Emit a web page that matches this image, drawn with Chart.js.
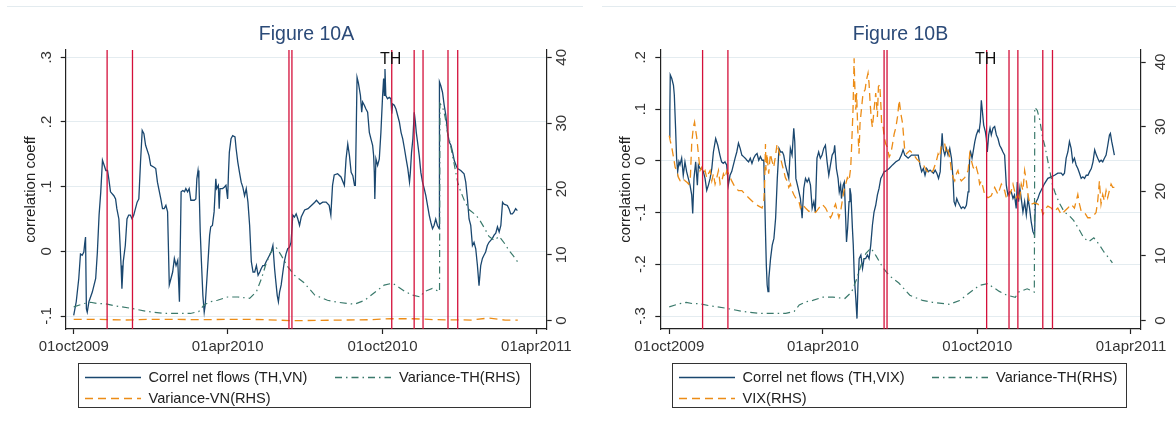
<!DOCTYPE html>
<html>
<head>
<meta charset="utf-8">
<script src="https://cdn.jsdelivr.net/npm/chart.js@4.4.1/dist/chart.umd.min.js"></script>
<style>
  html, body { margin: 0; padding: 0; background: #fff; }
  #page { position: relative; width: 1176px; height: 428px; overflow: hidden; font-family: "Liberation Sans", Arial, sans-serif; }
  canvas { position: absolute; top: 0; }
  .frame { position: absolute; top: 6px; height: 1px; background: #e3ebef; }
  .title { position: absolute; top: 22px; height: 22px; line-height: 22px; font-size: 19.5px; color: #2b4a78; text-align: center; }
  .legend { position: absolute; top: 363px; height: 45px; border: 1px solid #333; box-sizing: border-box; }
  .legend .item { position: absolute; height: 18px; line-height: 18px; font-size: 14.6px; color: #222; white-space: nowrap; }
  .legend svg { position: absolute; top: 0; }
</style>
</head>
<body>
<div id="page">
  <div class="frame" style="left:7px;width:576px"></div>
  <div class="frame" style="left:602px;width:574px"></div>
  <canvas id="chartA" width="588" height="428" style="left:0"></canvas>
  <canvas id="chartB" width="588" height="428" style="left:588px"></canvas>
  <div class="title" style="left:66px;width:481px">Figure 10A</div>
  <div class="title" style="left:660px;width:481px">Figure 10B</div>
  <div class="legend" id="legA" style="left:78px;width:453px"></div>
  <div class="legend" id="legB" style="left:672px;width:455px"></div>
</div>
<script>
// days counted from 01oct2009
const tickDays = [0, 182, 365, 547];
const tickLabels = ["01oct2009", "01apr2010", "01oct2010", "01apr2011"];
const eventDays = [39.5, 69.5, 254.5, 258, 376, 402.5, 413, 442.5, 454];
const eventLabel = "TH";
const eventLabelAt = 4;

const leftTicksA = [-0.1, 0, 0.1, 0.2, 0.3];
const leftLabelsA = ["-.1", "0", ".1", ".2", ".3"];
const leftTicksB = [-0.3, -0.2, -0.1, 0, 0.1, 0.2];
const leftLabelsB = ["-.3", "-.2", "-.1", "0", ".1", ".2"];
const rightTicks = [0, 10, 20, 30, 40];
const rightLabels = ["0", "10", "20", "30", "40"];

// Figure 10A: Correl net flows (TH,VN)
const correlVNDays = [0, 3, 6, 8, 10, 12, 13, 14, 15, 16, 18, 22, 26, 28, 30, 32, 34, 36, 38, 40, 41.5, 43.5, 47.5, 49.5, 51, 53.4, 56, 57, 58.6, 61, 63, 65, 67, 69, 71, 75, 77, 79, 81, 83, 85, 89, 91, 95, 97, 99, 103, 105, 107, 109, 111, 113, 115, 117, 119, 121, 123, 125, 127, 129, 131, 132.6, 134.6, 136.5, 138.5, 142.5, 144.4, 145.6, 147, 148, 149.6, 151, 152.7, 154.3, 155.5, 157.5, 159, 160.7, 162, 164, 166, 168, 169, 171, 172, 173, 176, 178, 180, 182, 183, 184, 186, 188, 190.7, 192, 194, 196, 198, 200, 202, 204, 206, 208, 210, 212, 214, 216, 218, 220, 221.6, 223.6, 225.5, 227.5, 229.5, 231.5, 233.5, 235.5, 237.5, 238.6, 240.6, 242, 243.4, 245.3, 247.3, 249, 251, 253, 255, 257, 259, 261, 263, 265, 267, 269, 273, 277, 281, 285, 287, 291, 294.4, 298.4, 302, 304, 306, 308, 312, 316, 320, 322, 324, 326, 328, 330, 332, 333, 334, 335, 336.5, 339, 340.5, 341.6, 343.6, 345.5, 347.5, 349.5, 351.4, 353.4, 354.6, 355.4, 356, 357.3, 359.3, 361.3, 363.2, 365.2, 366.4, 367.2, 368, 369, 371, 373, 375, 376, 377, 379, 381, 383, 385, 387, 389, 391, 393, 395, 397, 398, 399.4, 401, 402.6, 404, 405, 406.5, 408.5, 410.4, 412.4, 414.4, 416.3, 418.3, 420.3, 422.2, 424.2, 426, 428, 430, 432, 432.4, 434, 436, 438, 440, 442, 444, 446, 448, 450, 452, 453.7, 457.6, 461.5, 463.5, 465.5, 467.4, 469.4, 471.4, 473.3, 475.3, 477.3, 479.2, 481.2, 483.2, 485, 487, 489, 491, 493, 495, 497, 499, 501, 503, 505, 507, 508.7, 512.7, 514.6, 516.6, 518.6, 520.5, 522.5, 524.5];
const correlVN = [-0.099, -0.078, -0.042, -0.004, -0.006, -0.001, 0.012, 0.022, -0.089, -0.094, -0.078, -0.063, -0.042, -0.001, 0.056, 0.092, 0.141, 0.133, 0.125, 0.125, 0.112, 0.092, 0.086, 0.081, 0.066, 0.050, -0.022, -0.058, -0.016, 0.009, 0.050, 0.056, 0.056, 0.050, 0.056, 0.076, 0.081, 0.138, 0.187, 0.182, 0.164, 0.148, 0.133, 0.130, 0.128, 0.107, 0.081, 0.066, 0.066, 0.071, 0.061, -0.052, -0.042, -0.032, -0.011, -0.022, -0.014, -0.078, 0.092, 0.094, 0.092, 0.097, 0.092, 0.097, 0.079, 0.079, 0.081, 0.112, 0.125, 0.112, 0.030, -0.016, -0.068, -0.094, -0.083, -0.042, -0.011, 0.025, 0.038, 0.040, 0.061, 0.112, 0.097, 0.102, 0.066, 0.097, 0.097, 0.099, 0.102, 0.081, 0.122, 0.153, 0.174, 0.179, 0.177, 0.159, 0.138, 0.122, 0.107, 0.099, 0.086, 0.097, 0.076, 0.040, -0.016, -0.032, -0.032, -0.022, -0.037, -0.032, -0.027, -0.022, -0.022, -0.016, -0.011, -0.006, -0.001, 0.009, -0.027, -0.042, -0.068, -0.078, -0.063, -0.052, -0.032, -0.016, -0.004, 0.004, 0.006, 0.014, 0.056, 0.053, 0.058, 0.050, 0.040, 0.053, 0.064, 0.066, 0.071, 0.076, 0.079, 0.073, 0.076, 0.076, 0.071, 0.056, 0.102, 0.118, 0.120, 0.115, 0.102, 0.143, 0.166, 0.148, 0.122, 0.117, 0.102, 0.102, 0.184, 0.269, 0.261, 0.241, 0.215, 0.231, 0.226, 0.220, 0.215, 0.184, 0.174, 0.164, 0.148, 0.122, 0.081, 0.143, 0.133, 0.143, 0.184, 0.241, 0.267, 0.241, 0.282, 0.241, 0.236, 0.238, 0.236, 0.213, 0.228, 0.226, 0.220, 0.210, 0.200, 0.184, 0.174, 0.159, 0.143, 0.128, 0.107, 0.122, 0.153, 0.174, 0.215, 0.199, 0.184, 0.169, 0.148, 0.122, 0.107, 0.097, 0.086, 0.071, 0.056, 0.045, 0.035, 0.040, 0.050, 0.040, 0.035, 0.262, 0.256, 0.246, 0.226, 0.210, 0.184, 0.169, 0.164, 0.153, 0.140, 0.133, 0.128, 0.125, 0.120, 0.107, 0.081, 0.050, 0.040, 0.009, 0.014, 0.004, -0.022, -0.053, -0.022, -0.011, -0.006, -0.001, 0.009, 0.014, 0.017, 0.020, 0.025, 0.028, 0.038, 0.030, 0.040, 0.076, 0.073, 0.071, 0.066, 0.058, 0.058, 0.061, 0.066, 0.063];

// Variance-TH(RHS), shared by both figures
const varTHDays = [0, 12, 20, 28, 36, 47, 67, 87, 107, 127, 138, 148, 154, 162, 170, 182, 194, 208, 216, 222, 227, 233, 239, 245, 253, 261, 272, 285, 300, 312, 332, 344, 355, 367, 377, 391, 400, 410, 414, 424, 432.5, 433, 436, 439, 442, 445, 448, 451, 454, 457, 462, 468, 474, 479, 485, 491, 497, 503, 509, 515, 520, 525];
const varTH = [2.1, 2.6, 2.8, 2.6, 2.6, 2.3, 1.9, 1.4, 1.1, 1.1, 1.1, 1.4, 2.4, 2.9, 3.1, 3.6, 3.6, 3.4, 4.4, 6.4, 8.5, 10.4, 11.2, 10.0, 8.2, 6.9, 5.8, 3.9, 3.1, 2.8, 2.5, 3.1, 4.2, 5.4, 5.7, 4.5, 3.9, 3.6, 4.4, 4.9, 4.4, 33.0, 32.5, 31.0, 28.5, 27.0, 25.0, 23.0, 21.0, 19.8, 18.2, 16.8, 16.2, 15.5, 14.2, 12.8, 12.2, 12.8, 11.8, 10.6, 9.8, 8.9];

// Variance-VN(RHS)
const varVNDays = [0, 30, 60, 90, 120, 150, 180, 210, 240, 260, 290, 320, 350, 375, 400, 430, 470, 490, 510, 525];
const varVN = [0.2, 0.2, 0.1, 0.2, 0.2, 0.15, 0.2, 0.2, 0.1, 0.0, 0.05, 0.1, 0.15, 0.3, 0.3, 0.15, 0.1, 0.4, 0.1, 0.1];

// Figure 10B: Correl net flows (TH,VIX)
const correlVIXDays = [0, 0.7, 1.2, 3, 5, 6, 7.5, 8.7, 10, 11.5, 12.7, 14.7, 16.6, 18.6, 20.6, 22.6, 24.6, 26.6, 27.8, 29.3, 31.3, 33.3, 34.5, 36.5, 38.5, 40.4, 42.4, 44.4, 46.4, 48.4, 50.4, 52.3, 55, 57.5, 60, 62, 64, 66, 68, 70, 72, 74, 76, 78, 80, 82, 84, 86, 88, 90, 92, 94, 96, 98, 100, 102, 104, 106, 108, 110, 112, 113, 114, 115, 116, 117, 118, 120, 122, 124, 126, 128, 130, 132, 134, 135.6, 137.6, 139.6, 141.6, 143.5, 145.5, 147.5, 148.7, 150, 152.7, 155.4, 157.4, 159.4, 161.4, 163.4, 165.3, 167.3, 169.3, 171.3, 173, 175, 177, 179, 181, 183, 185, 187, 189, 191, 193, 195, 196, 198, 200, 201.4, 203, 204, 206, 207.4, 209, 210, 211.3, 213, 214, 215.3, 217, 218, 219.3, 221, 222.4, 223.6, 225, 227, 229, 230.8, 232.7, 234.7, 236.7, 238.7, 240.7, 242.6, 244.6, 246.6, 248.6, 250.6, 252.6, 254.6, 256.5, 260.5, 264.5, 268.5, 272.4, 275, 277, 279, 283, 287, 291, 295, 297, 299, 301, 303, 305, 307, 309, 311, 313, 315, 317, 319, 321, 322.5, 323.3, 324.4, 326.4, 328.4, 330.3, 332.3, 334.3, 336.2, 337.4, 339, 340.6, 342, 344, 346, 348, 350, 352, 354, 355, 356, 357, 358.7, 360, 362, 363.8, 365.8, 367, 368.5, 369.7, 371, 372.5, 374.5, 375.6, 376.8, 378.4, 380, 381.5, 383.5, 385.5, 387.5, 389.4, 391.4, 393.4, 395.3, 397.3, 399.3, 401.2, 403.2, 405.2, 407.2, 409, 411, 412.3, 413.8, 415.4, 417, 419, 421, 423, 425, 426.9, 428.8, 430.8, 432.8, 433.6, 434.7, 436.7, 438.7, 440.6, 444.6, 448.5, 452.5, 456.4, 460.3, 464.3, 466.3, 468.2, 470.2, 472.2, 474.1, 476.1, 478, 480, 482, 484, 486, 488, 490, 492, 494, 496, 498, 500, 502, 504, 506, 507.6, 509.6, 511.6, 513.5, 515.5, 517.5, 519.5, 521.5, 522.6, 524.2, 525.8, 527.3];
const correlVIX = [0.046, 0.095, 0.166, 0.159, 0.146, 0.127, 0.063, 0.005, -0.021, -0.002, -0.008, 0.005, -0.028, -0.002, -0.021, -0.034, -0.047, -0.066, -0.102, -0.034, -0.002, -0.047, -0.008, -0.015, -0.015, -0.021, -0.034, -0.057, -0.047, -0.034, -0.015, 0.017, 0.043, 0.030, 0.011, -0.002, -0.005, -0.002, -0.008, -0.047, -0.028, -0.021, -0.008, 0.005, 0.017, 0.034, 0.024, 0.011, 0.008, 0.005, 0.001, -0.002, 0.005, -0.005, 0.005, 0.011, 0.014, 0.001, 0.008, 0.001, 0.001, -0.066, -0.137, -0.202, -0.240, -0.253, -0.227, -0.189, -0.163, -0.150, -0.111, -0.034, 0.024, 0.017, 0.017, 0.011, -0.008, -0.021, -0.034, 0.024, 0.011, 0.063, 0.037, -0.034, -0.053, -0.073, -0.111, -0.053, -0.034, -0.041, -0.034, -0.047, -0.092, -0.079, -0.099, 0.005, 0.017, 0.005, 0.011, 0.024, 0.030, -0.002, -0.028, -0.008, 0.011, 0.017, 0.030, -0.015, -0.034, -0.060, -0.047, -0.073, -0.047, -0.041, -0.111, -0.157, -0.131, -0.079, -0.053, -0.066, -0.131, -0.163, -0.227, -0.266, -0.305, -0.240, -0.189, -0.182, -0.208, -0.189, -0.189, -0.182, -0.189, -0.163, -0.124, -0.099, -0.086, -0.066, -0.053, -0.034, -0.028, -0.021, -0.020, -0.015, -0.008, -0.002, 0.002, 0.011, 0.021, 0.011, 0.005, 0.011, 0.011, 0.011, -0.008, -0.021, -0.015, -0.028, -0.015, -0.021, -0.018, -0.021, -0.024, -0.018, -0.024, -0.034, -0.021, 0.030, 0.053, 0.024, 0.011, 0.024, 0.011, 0.024, 0.005, -0.034, -0.079, -0.086, -0.073, -0.079, -0.086, -0.092, -0.089, -0.092, -0.086, -0.060, -0.034, 0.011, 0.017, 0.005, 0.017, 0.037, 0.050, 0.059, 0.056, 0.075, 0.117, 0.095, 0.069, 0.056, 0.043, 0.017, 0.050, 0.063, 0.050, 0.063, 0.066, 0.050, 0.043, 0.030, 0.024, 0.017, 0.011, -0.047, -0.066, -0.060, -0.060, -0.073, -0.066, -0.092, -0.041, -0.079, -0.053, -0.073, -0.099, -0.079, -0.105, -0.073, -0.092, -0.118, -0.137, -0.144, -0.086, -0.079, -0.073, -0.063, -0.057, -0.044, -0.034, -0.031, -0.028, -0.024, -0.024, -0.028, -0.024, 0.005, 0.017, 0.037, 0.024, -0.002, 0.005, -0.008, -0.015, -0.024, -0.034, -0.031, -0.034, -0.028, -0.028, -0.021, -0.015, -0.002, 0.021, 0.011, 0.005, -0.002, 0.001, -0.002, 0.005, 0.011, 0.030, 0.050, 0.053, 0.037, 0.024, 0.011];

// VIX(RHS)
const vixDays = [0, 1, 3, 5, 7, 9, 11, 13, 15, 17, 19, 21, 23, 25, 26.6, 28.5, 30, 31.3, 32.5, 34.5, 36.5, 38.5, 40.4, 42.4, 44.4, 46.4, 48.4, 50.4, 52.3, 54.3, 56.3, 58.3, 60.3, 62.3, 64.2, 66.2, 68.2, 70.2, 72.2, 74, 76, 78, 82, 86, 90, 94, 98, 102, 106, 110, 112, 113, 114, 114.6, 115.8, 117.8, 119.8, 121.7, 123.7, 125.7, 127.7, 129.7, 131.6, 133.6, 135.6, 137.6, 139.6, 141.6, 143.5, 145.5, 147.5, 149.5, 153.5, 155.4, 157.4, 161.4, 165.3, 169.3, 173.3, 177.2, 181.2, 185.2, 189, 191, 193, 195, 197, 199, 201, 203, 205, 207, 209, 211, 213, 215, 216, 217.7, 219, 219.7, 221, 222, 223.2, 224.8, 226, 227.6, 229.6, 232, 233.6, 235.5, 236.7, 238, 239.5, 240.7, 242.6, 244.6, 246.6, 247.8, 249.4, 251, 251.7, 253.4, 254.6, 256.5, 258.5, 260.5, 262.5, 264.5, 266.5, 268.5, 270.4, 272.4, 274.4, 276.4, 279, 281, 285, 289, 293, 297, 300.7, 304.7, 308.6, 312.6, 316.5, 318.5, 320.5, 322.4, 326.4, 328.3, 330.3, 332.3, 334.2, 336.2, 338.2, 340.2, 342, 344, 346, 350, 354, 356, 358, 360, 362, 363.8, 365.8, 367.7, 369.7, 371.7, 373.6, 377.6, 381.5, 385.5, 389.4, 393.4, 397.3, 399.3, 401.2, 403.2, 405.2, 407.2, 409, 411, 413, 415, 417, 419, 421, 423, 425, 427, 428.8, 432.8, 436.7, 440.6, 442.6, 444.6, 446.5, 448.5, 452.5, 456.4, 460.3, 464.3, 468.2, 472.2, 476, 480, 484, 486, 488, 492, 495.8, 499.7, 503.7, 505.6, 507.6, 509.6, 511.5, 513.5, 515.5, 517.5, 519.4, 521.4, 523.4, 525.3, 527.3];
const vix = [28.6, 27.9, 26.8, 25.3, 23.7, 23.2, 22.1, 21.6, 21.6, 21.9, 21.6, 21.4, 21.1, 22.1, 27.3, 29.9, 30.7, 29.4, 28.4, 25.8, 23.2, 23.7, 22.7, 23.2, 22.1, 22.7, 23.2, 21.6, 22.7, 21.1, 22.1, 23.2, 21.1, 21.6, 22.7, 22.1, 23.2, 22.7, 22.1, 21.6, 21.1, 20.6, 20.1, 20.1, 19.5, 19.0, 18.5, 18.0, 17.7, 17.4, 18.5, 21.1, 27.3, 23.2, 25.8, 22.7, 25.8, 24.7, 23.7, 25.3, 27.3, 26.3, 25.3, 24.2, 23.2, 22.1, 21.6, 20.6, 21.1, 20.1, 19.5, 19.0, 18.5, 17.4, 18.0, 17.4, 16.9, 16.9, 16.7, 17.4, 18.0, 17.4, 16.4, 15.9, 16.4, 17.4, 18.0, 16.9, 15.9, 16.9, 18.5, 20.1, 21.1, 22.1, 21.6, 23.7, 26.8, 32.6, 40.6, 36.7, 32.6, 35.2, 29.9, 25.8, 30.5, 32.6, 35.2, 35.7, 37.2, 38.3, 36.7, 33.6, 31.0, 29.9, 32.6, 35.2, 31.5, 36.2, 36.5, 32.6, 29.9, 29.9, 28.4, 27.3, 26.8, 25.3, 25.8, 27.3, 28.9, 29.9, 31.5, 34.1, 32.0, 30.5, 26.3, 25.8, 26.3, 25.8, 25.0, 24.5, 24.2, 23.2, 22.7, 23.2, 24.7, 25.8, 25.3, 27.3, 27.3, 25.8, 26.3, 25.3, 23.2, 22.1, 21.6, 22.7, 23.2, 22.1, 21.6, 22.1, 23.2, 25.8, 24.7, 23.7, 23.2, 23.7, 22.7, 21.1, 21.6, 20.6, 19.5, 19.0, 19.3, 20.6, 19.5, 21.1, 20.1, 19.0, 18.8, 19.5, 20.1, 21.1, 20.1, 19.0, 19.5, 18.5, 21.1, 20.1, 23.2, 21.6, 19.5, 18.0, 18.0, 18.2, 18.0, 17.4, 16.4, 16.9, 17.4, 17.7, 17.4, 16.9, 17.4, 16.4, 16.9, 17.4, 18.0, 17.4, 19.5, 18.0, 16.9, 16.7, 15.9, 15.9, 16.4, 16.7, 18.5, 21.6, 18.0, 19.5, 18.5, 20.1, 19.0, 20.1, 21.1, 20.6, 20.6];

const FONT = "'Liberation Sans', Arial, sans-serif";
const AXIS = "#222";
const NAVY = "#1a476f";
const TEAL = "#3b7a6c";
const ORANGE = "#ec8c16";
const RED = "#d4103a";

function pts(xs, ys) {
    return xs.map((x, i) => ({ x: x, y: ys[i] }));
}

const eventLines = {
    id: "eventLines",
    afterDatasetsDraw(chart) {
        const { ctx, chartArea, scales } = chart;
        ctx.save();
        ctx.strokeStyle = RED;
        ctx.lineWidth = 1.3;
        eventDays.forEach((d) => {
            const x = scales.x.getPixelForValue(d);
            ctx.beginPath();
            ctx.moveTo(x, chartArea.top);
            ctx.lineTo(x, chartArea.bottom);
            ctx.stroke();
        });
        ctx.fillStyle = "#111";
        ctx.font = "16px " + FONT;
        ctx.textAlign = "center";
        ctx.textBaseline = "alphabetic";
        ctx.fillText(eventLabel, scales.x.getPixelForValue(eventDays[eventLabelAt]) - 1, chartArea.top + 13.5);
        ctx.restore();
    },
};

function makePanel(id, p) {
    return new Chart(document.getElementById(id), {
        type: "line",
        data: { datasets: p.datasets },
        options: {
            responsive: false,
            animation: false,
            layout: { padding: { left: 0, right: 0, top: 50, bottom: 69 } },
            plugins: { legend: { display: false }, tooltip: { enabled: false } },
            elements: { point: { radius: 0 }, line: { tension: 0 } },
            scales: {
                x: {
                    type: "linear",
                    min: p.xMin,
                    max: p.xMax,
                    afterBuildTicks: (s) => { s.ticks = tickDays.map((v) => ({ value: v })); },
                    afterFit: (s) => { s.height = 30; },
                    grid: { drawOnChartArea: false, tickLength: 5, tickColor: AXIS, tickWidth: 1.2 },
                    border: { color: AXIS, width: 1.2 },
                    ticks: {
                        autoSkip: false, maxRotation: 0, padding: 4, color: "#333",
                        font: { family: FONT, size: 15 },
                        callback: (v, i) => tickLabels[i],
                    },
                },
                y: {
                    position: "left",
                    min: p.yMin,
                    max: p.yMax,
                    afterBuildTicks: (s) => { s.ticks = p.leftTicks.map((v) => ({ value: v })); },
                    afterFit: (s) => { s.width = p.leftWidth; },
                    grid: { color: "#e4ecf0", lineWidth: 1, tickLength: 5, tickColor: AXIS, tickWidth: 1.2 },
                    border: { color: AXIS, width: 1.2 },
                    ticks: {
                        autoSkip: false, minRotation: 90, maxRotation: 90, crossAlign: "center",
                        padding: p.leftPad, color: "#333", font: { family: FONT, size: 15 },
                        callback: (v, i) => p.leftLabels[i],
                    },
                    title: {
                        display: true, text: "correlation coeff", color: "#222",
                        font: { family: FONT, size: 15 }, padding: { top: p.titlePad, bottom: 0 },
                    },
                },
                y1: {
                    position: "right",
                    min: p.rMin,
                    max: p.rMax,
                    afterBuildTicks: (s) => { s.ticks = rightTicks.map((v) => ({ value: v })); },
                    afterFit: (s) => { s.width = p.rightWidth; },
                    grid: { drawOnChartArea: false, tickLength: 5, tickColor: AXIS, tickWidth: 1.2 },
                    border: { color: AXIS, width: 1.2 },
                    ticks: {
                        autoSkip: false, minRotation: 90, maxRotation: 90, crossAlign: "center",
                        padding: p.rightPad, color: "#333", font: { family: FONT, size: 15 },
                        callback: (v, i) => rightLabels[i],
                    },
                },
            },
        },
        plugins: [eventLines],
    });
}

const varTHSet = {
    label: "Variance-TH(RHS)", data: pts(varTHDays, varTH), yAxisID: "y1",
    borderColor: TEAL, borderWidth: 1.2, borderDash: [7, 4, 1.5, 4], order: 1,
};

makePanel("chartA", {
    xMin: -9.46, xMax: 559.2,
    yMin: -0.1201, yMax: 0.3113, rMin: -1.26, rMax: 41.11,
    leftTicks: leftTicksA, leftLabels: leftLabelsA,
    leftWidth: 65.7, rightWidth: 41.3, leftPad: 5, rightPad: 2, titlePad: 22,
    datasets: [
        { label: "Correl net flows (TH,VN)", data: pts(correlVNDays, correlVN), yAxisID: "y", borderColor: NAVY, borderWidth: 1.3, order: 2 },
        varTHSet,
        { label: "Variance-VN(RHS)", data: pts(varVNDays, varVN), yAxisID: "y1", borderColor: ORANGE, borderWidth: 1.3, borderDash: [8, 5], order: 0 },
    ],
});

makePanel("chartB", {
    xMin: -10.6, xMax: 558.5,
    yMin: -0.3251, yMax: 0.2141, rMin: -1.32, rMax: 41.86,
    leftTicks: leftTicksB, leftLabels: leftLabelsB,
    leftWidth: 72.3, rightWidth: 35.3, leftPad: 5.5, rightPad: 7, titlePad: 29,
    datasets: [
        { label: "Correl net flows (TH,VIX)", data: pts(correlVIXDays, correlVIX), yAxisID: "y", borderColor: NAVY, borderWidth: 1.3, order: 2 },
        Object.assign({}, varTHSet, { data: pts(varTHDays, varTH) }),
        { label: "VIX(RHS)", data: pts(vixDays, vix), yAxisID: "y1", borderColor: ORANGE, borderWidth: 1.3, borderDash: [8, 5], order: 0 },
    ],
});

// legend boxes (HTML, 2 columns)
function lineSample(color, dash) {
    const d = dash ? ' stroke-dasharray="' + dash + '"' : "";
    return '<svg width="56" height="18"><line x1="0" y1="9.5" x2="56" y2="9.5" stroke="' + color + '" stroke-width="1.3"' + d + "/></svg>";
}
function buildLegend(id, items, col2) {
    const box = document.getElementById(id);
    items.forEach((it) => {
        const left = it.col === 1 ? col2 : 5.5;
        const top = it.row === 0 ? 3.5 : 25;
        const el = document.createElement("div");
        el.className = "item";
        el.style.left = left + "px";
        el.style.top = top + "px";
        el.innerHTML = lineSample(it.color, it.dash) + '<span style="position:absolute;left:64px">' + it.text + "</span>";
        box.appendChild(el);
    });
}
buildLegend("legA", [
    { text: "Correl net flows (TH,VN)", color: NAVY, row: 0, col: 0 },
    { text: "Variance-TH(RHS)", color: TEAL, dash: "7 4 1.5 4", row: 0, col: 1 },
    { text: "Variance-VN(RHS)", color: ORANGE, dash: "8 5", row: 1, col: 0 },
], 256);
buildLegend("legB", [
    { text: "Correl net flows (TH,VIX)", color: NAVY, row: 0, col: 0 },
    { text: "Variance-TH(RHS)", color: TEAL, dash: "7 4 1.5 4", row: 0, col: 1 },
    { text: "VIX(RHS)", color: ORANGE, dash: "8 5", row: 1, col: 0 },
], 259);
</script>
</body>
</html>
